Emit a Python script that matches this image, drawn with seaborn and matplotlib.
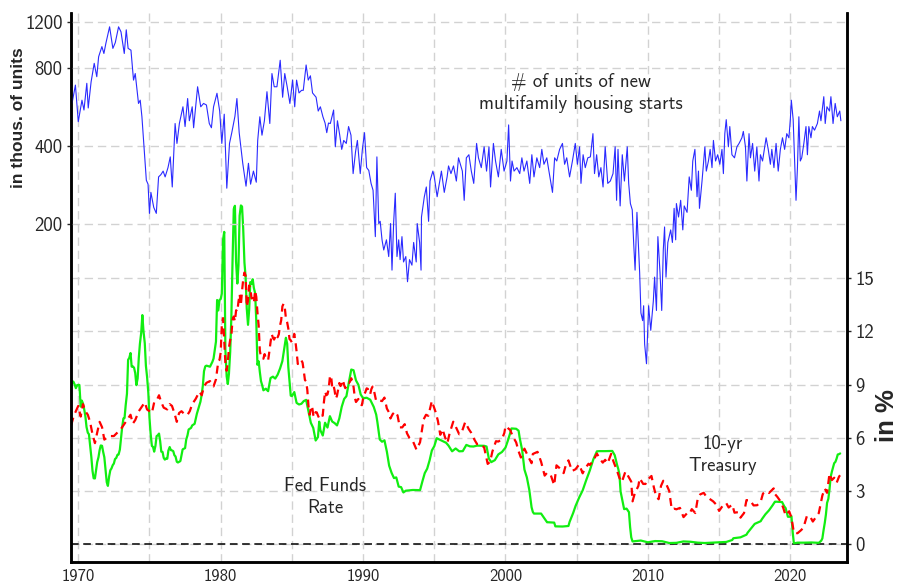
import numpy as np
import pandas as pd
import matplotlib
matplotlib.use("Agg")
import matplotlib.pyplot as plt
import seaborn as sns
from matplotlib.ticker import FixedLocator, FixedFormatter, NullLocator

# multifamily housing starts, thousands of units
mf_year = [1969.56, 1969.8, 1970.0, 1970.26, 1970.4, 1970.6, 1970.7, 1970.9, 1971.12, 1971.3,
           1971.43, 1971.66, 1971.8, 1971.94, 1972.2, 1972.43, 1972.6, 1972.83, 1973.0, 1973.23,
           1973.37, 1973.5, 1973.7, 1973.88, 1974.0, 1974.23, 1974.35, 1974.47, 1974.63, 1974.78,
           1974.9, 1975.0, 1975.1, 1975.3, 1975.48, 1975.64, 1975.8, 1975.96, 1976.1, 1976.3,
           1976.46, 1976.6, 1976.8, 1976.93, 1977.1, 1977.35, 1977.5, 1977.68, 1977.8, 1978.0,
           1978.1, 1978.38, 1978.6, 1978.8, 1979.0, 1979.2, 1979.35, 1979.5, 1979.74, 1979.93,
           1980.08, 1980.25, 1980.43, 1980.62, 1980.78, 1981.0, 1981.14, 1981.3, 1981.55, 1981.78,
           1981.95, 1982.1, 1982.3, 1982.5, 1982.6, 1982.75, 1982.9, 1983.07, 1983.25, 1983.45,
           1983.6, 1983.76, 1983.95, 1984.18, 1984.35, 1984.5, 1984.67, 1984.86, 1985.05, 1985.2,
           1985.33, 1985.5, 1985.68, 1985.8, 1986.0, 1986.15, 1986.3, 1986.45, 1986.7, 1986.85,
           1987.0, 1987.18, 1987.33, 1987.45, 1987.57, 1987.7, 1987.93, 1988.05, 1988.2, 1988.36,
           1988.5, 1988.64, 1988.82, 1988.98, 1989.15, 1989.3, 1989.47, 1989.6, 1989.8, 1989.95,
           1990.1, 1990.25, 1990.4, 1990.56, 1990.7, 1990.86, 1990.97, 1991.1, 1991.2, 1991.33,
           1991.45, 1991.64, 1991.8, 1991.93, 1992.03, 1992.15, 1992.26, 1992.38, 1992.5, 1992.6,
           1992.73, 1992.84, 1993.0, 1993.12, 1993.26, 1993.43, 1993.55, 1993.73, 1993.8, 1993.97,
           1994.07, 1994.1, 1994.3, 1994.44, 1994.6, 1994.7, 1994.9, 1995.0, 1995.2, 1995.36,
           1995.5, 1995.7, 1995.9, 1996.0, 1996.17, 1996.35, 1996.55, 1996.7, 1996.97, 1997.1,
           1997.25, 1997.43, 1997.6, 1997.77, 1997.97, 1998.1, 1998.3, 1998.5, 1998.67, 1998.84,
           1998.95, 1999.15, 1999.3, 1999.5, 1999.7, 1999.9, 2000.1, 2000.22, 2000.35, 2000.46,
           2000.6, 2000.8, 2001.0, 2001.15, 2001.3, 2001.5, 2001.7, 2001.85, 2002.0, 2002.2,
           2002.4, 2002.55, 2002.7, 2002.9, 2003.05, 2003.3, 2003.45, 2003.6, 2003.8, 2004.0,
           2004.15, 2004.3, 2004.5, 2004.7, 2004.9, 2005.05, 2005.2, 2005.3, 2005.45, 2005.6,
           2005.78, 2005.96, 2006.14, 2006.25, 2006.4, 2006.55, 2006.7, 2006.85, 2007.0, 2007.18,
           2007.36, 2007.55, 2007.7, 2007.8, 2007.9, 2008.05, 2008.2, 2008.35, 2008.55, 2008.65,
           2008.77, 2008.9, 2009.0, 2009.1, 2009.23, 2009.42, 2009.51, 2009.63, 2009.7, 2009.77,
           2009.9, 2010.05, 2010.2, 2010.38, 2010.47, 2010.6, 2010.7, 2010.85, 2010.97, 2011.08,
           2011.17, 2011.27, 2011.4, 2011.6, 2011.72, 2011.84, 2011.95, 2012.0, 2012.15, 2012.3,
           2012.45, 2012.55, 2012.75, 2012.9, 2013.05, 2013.15, 2013.3, 2013.45, 2013.55, 2013.62,
           2013.8, 2014.0, 2014.1, 2014.25, 2014.37, 2014.5, 2014.6, 2014.75, 2014.9, 2015.05,
           2015.2, 2015.3, 2015.4, 2015.5, 2015.65, 2015.75, 2015.9, 2016.08, 2016.25, 2016.4,
           2016.6, 2016.7, 2016.85, 2016.95, 2017.1, 2017.2, 2017.35, 2017.5, 2017.65, 2017.8,
           2017.9, 2018.05, 2018.2, 2018.3, 2018.45, 2018.6, 2018.7, 2018.85, 2019.0, 2019.15,
           2019.3, 2019.45, 2019.6, 2019.75, 2019.9, 2020.0, 2020.07, 2020.2, 2020.3, 2020.4,
           2020.5, 2020.6, 2020.7, 2020.8, 2020.95, 2021.1, 2021.2, 2021.3, 2021.45, 2021.55,
           2021.7, 2021.9, 2022.05, 2022.15, 2022.35, 2022.45, 2022.57, 2022.75, 2022.85, 2023.0,
           2023.15, 2023.3, 2023.47, 2023.55]
mf_units = [583, 686, 496, 600, 550, 697, 560, 705, 832, 739,
            882, 965, 908, 994, 1150, 950, 1000, 1150, 1100, 908,
            1120, 950, 935, 717, 760, 583, 600, 518, 386, 295,
            285, 220, 265, 232, 220, 304, 310, 320, 304, 330,
            363, 278, 488, 409, 488, 566, 475, 609, 500, 566,
            470, 676, 566, 583, 575, 488, 470, 566, 638, 545,
            409, 530, 275, 409, 450, 520, 609, 450, 343, 280,
            343, 285, 320, 290, 420, 518, 440, 500, 647, 488,
            760, 676, 676, 855, 616, 760, 676, 583, 717, 566,
            717, 640, 655, 655, 820, 717, 745, 640, 616, 545,
            566, 518, 490, 450, 490, 488, 550, 397, 500, 440,
            388, 420, 409, 475, 440, 313, 380, 420, 313, 388,
            450, 330, 322, 287, 270, 179, 363, 201, 205, 174,
            159, 174, 150, 201, 133, 205, 263, 150, 174, 146,
            179, 143, 150, 120, 146, 139, 170, 143, 201, 170,
            133, 213, 255, 278, 205, 293, 320, 304, 255, 287,
            320, 265, 304, 335, 313, 335, 293, 360, 320, 247,
            360, 370, 320, 287, 409, 360, 330, 397, 320, 397,
            278, 409, 350, 304, 388, 320, 350, 482, 293, 350,
            320, 330, 313, 360, 320, 350, 287, 370, 304, 360,
            330, 388, 340, 360, 320, 265, 360, 350, 388, 409,
            340, 360, 304, 350, 409, 340, 397, 287, 370, 330,
            360, 363, 446, 313, 370, 304, 330, 278, 397, 287,
            293, 313, 397, 247, 388, 235, 370, 293, 397, 287,
            240, 227, 169, 133, 222, 130, 91, 85, 97, 69,
            58, 97, 78, 101, 125, 93, 179, 130, 93, 159,
            195, 125, 170, 190, 170, 230, 174, 240, 213, 247,
            190, 235, 222, 304, 270, 350, 388, 255, 320, 230,
            293, 397, 320, 350, 388, 330, 420, 350, 370, 340,
            388, 313, 446, 505, 397, 475, 370, 360, 397, 409,
            430, 455, 397, 293, 446, 360, 409, 320, 397, 293,
            370, 350, 397, 430, 388, 340, 388, 330, 409, 320,
            388, 430, 388, 446, 430, 505, 600, 505, 350, 247,
            330, 518, 350, 360, 409, 475, 370, 475, 430, 475,
            460, 488, 545, 500, 619, 488, 566, 545, 619, 488,
            583, 518, 545, 500]

# effective federal funds rate, percent
fed_year = [1969.5, 1969.58, 1969.67, 1969.75, 1969.83, 1969.92, 1970.0, 1970.08, 1970.17, 1970.25,
            1970.33, 1970.42, 1970.5, 1970.58, 1970.67, 1970.75, 1970.83, 1970.92, 1971.0, 1971.08,
            1971.17, 1971.25, 1971.33, 1971.42, 1971.5, 1971.58, 1971.67, 1971.75, 1971.83, 1971.92,
            1972.0, 1972.08, 1972.17, 1972.25, 1972.33, 1972.42, 1972.5, 1972.58, 1972.67, 1972.75,
            1972.83, 1972.92, 1973.0, 1973.08, 1973.17, 1973.25, 1973.33, 1973.42, 1973.5, 1973.58,
            1973.67, 1973.75, 1973.83, 1973.92, 1974.0, 1974.08, 1974.17, 1974.25, 1974.33, 1974.42,
            1974.5, 1974.58, 1974.67, 1974.75, 1974.83, 1974.92, 1975.0, 1975.08, 1975.17, 1975.25,
            1975.33, 1975.42, 1975.5, 1975.58, 1975.67, 1975.75, 1975.83, 1975.92, 1976.0, 1976.08,
            1976.17, 1976.25, 1976.33, 1976.42, 1976.5, 1976.58, 1976.67, 1976.75, 1976.83, 1976.92,
            1977.0, 1977.17, 1977.33, 1977.5, 1977.58, 1977.67, 1977.75, 1977.92, 1978.0, 1978.17,
            1978.33, 1978.42, 1978.5, 1978.58, 1978.67, 1978.75, 1978.83, 1978.92, 1979.0, 1979.25,
            1979.42, 1979.5, 1979.58, 1979.67, 1979.75, 1979.83, 1979.92, 1980.0, 1980.08, 1980.17,
            1980.25, 1980.33, 1980.42, 1980.5, 1980.58, 1980.67, 1980.75, 1980.83, 1980.92, 1981.0,
            1981.08, 1981.17, 1981.25, 1981.33, 1981.42, 1981.5, 1981.58, 1981.67, 1981.75, 1981.83,
            1981.92, 1982.0, 1982.08, 1982.17, 1982.25, 1982.33, 1982.42, 1982.5, 1982.58, 1982.67,
            1982.75, 1982.83, 1982.92, 1983.0, 1983.17, 1983.33, 1983.5, 1983.67, 1983.83, 1984.0,
            1984.17, 1984.33, 1984.5, 1984.58, 1984.67, 1984.75, 1984.92, 1985.0, 1985.17, 1985.33,
            1985.5, 1985.67, 1985.83, 1986.0, 1986.17, 1986.33, 1986.5, 1986.67, 1986.83, 1986.92,
            1987.0, 1987.17, 1987.33, 1987.5, 1987.67, 1987.83, 1988.0, 1988.17, 1988.33, 1988.5,
            1988.67, 1988.83, 1989.0, 1989.17, 1989.33, 1989.5, 1989.67, 1989.83, 1990.0, 1990.25,
            1990.5, 1990.75, 1990.92, 1991.0, 1991.17, 1991.33, 1991.5, 1991.67, 1991.83, 1992.0,
            1992.17, 1992.33, 1992.5, 1992.67, 1992.83, 1993.0, 1993.5, 1994.0, 1994.17, 1994.33,
            1994.5, 1994.67, 1994.83, 1995.0, 1995.17, 1995.5, 1995.83, 1996.0, 1996.25, 1996.5,
            1996.75, 1997.0, 1997.25, 1997.5, 1997.75, 1998.0, 1998.5, 1998.67, 1998.83, 1999.0,
            1999.25, 1999.5, 1999.75, 2000.0, 2000.17, 2000.33, 2000.42, 2000.75, 2000.92, 2001.0,
            2001.17, 2001.33, 2001.5, 2001.67, 2001.83, 2001.92, 2002.0, 2002.5, 2002.83, 2002.92,
            2003.0, 2003.42, 2003.5, 2004.0, 2004.42, 2004.5, 2004.75, 2004.92, 2005.17, 2005.42,
            2005.67, 2005.92, 2006.17, 2006.42, 2006.58, 2007.0, 2007.5, 2007.67, 2007.83, 2007.92,
            2008.0, 2008.08, 2008.17, 2008.33, 2008.5, 2008.67, 2008.75, 2008.83, 2008.92, 2009.5,
            2010.0, 2010.5, 2011.0, 2011.5, 2012.0, 2012.5, 2013.0, 2013.5, 2014.0, 2014.5,
            2015.0, 2015.5, 2015.92, 2016.0, 2016.5, 2016.92, 2017.0, 2017.25, 2017.5, 2017.92,
            2018.0, 2018.25, 2018.5, 2018.75, 2018.92, 2019.0, 2019.42, 2019.58, 2019.67, 2019.83,
            2020.0, 2020.08, 2020.17, 2020.25, 2020.5, 2021.0, 2021.5, 2022.0, 2022.17, 2022.25,
            2022.33, 2022.42, 2022.5, 2022.58, 2022.67, 2022.75, 2022.83, 2022.92, 2023.0, 2023.08,
            2023.17, 2023.25, 2023.33, 2023.42, 2023.5]
fed_rate = [8.9, 9.2, 9.15, 9.0, 8.8, 8.97, 8.98, 8.98, 7.76, 8.1,
            7.94, 7.6, 7.21, 6.61, 6.29, 6.2, 5.6, 4.9, 4.14, 3.72,
            3.71, 4.15, 4.63, 4.91, 5.31, 5.57, 5.55, 5.2, 4.91, 4.14,
            3.5, 3.29, 3.83, 4.17, 4.27, 4.46, 4.55, 4.8, 4.87, 5.04,
            5.06, 5.33, 5.94, 6.58, 7.09, 7.12, 7.84, 8.49, 10.4, 10.5,
            10.78, 10.01, 10.03, 9.95, 9.65, 8.97, 9.35, 10.51, 11.31, 11.93,
            12.92, 12.01, 11.34, 10.06, 9.45, 8.53, 7.13, 6.24, 5.54, 5.49,
            5.22, 5.55, 6.1, 6.14, 6.24, 5.82, 5.22, 5.2, 4.87, 4.77,
            4.84, 4.82, 5.29, 5.48, 5.31, 5.29, 5.25, 5.02, 4.95, 4.65,
            4.61, 4.69, 5.35, 5.42, 5.9, 6.14, 6.47, 6.56, 6.7, 6.79,
            7.36, 7.6, 7.81, 8.04, 8.45, 8.96, 9.76, 10.03, 10.07, 10.01,
            10.29, 10.47, 10.94, 11.43, 13.77, 13.18, 13.78, 13.82, 14.13, 17.19,
            17.61, 10.98, 9.47, 9.03, 9.61, 10.87, 12.81, 15.85, 18.9, 19.08,
            15.93, 14.7, 15.72, 18.52, 19.1, 19.04, 17.82, 15.87, 15.08, 13.31,
            12.37, 13.22, 14.78, 14.68, 14.94, 14.45, 14.15, 12.59, 10.12, 10.31,
            9.71, 9.2, 8.95, 8.68, 8.77, 8.63, 9.37, 9.45, 9.34, 9.56,
            9.91, 10.32, 11.23, 11.64, 11.3, 9.99, 8.38, 8.35, 8.58, 7.97,
            7.88, 7.92, 8.07, 8.14, 7.48, 6.85, 6.56, 5.85, 6.04, 6.91,
            6.43, 6.13, 6.85, 6.58, 7.22, 6.92, 6.83, 6.7, 7.09, 7.75,
            8.19, 8.35, 9.12, 9.85, 9.81, 9.24, 8.99, 8.45, 8.23, 8.26,
            8.15, 7.74, 7.31, 6.91, 5.91, 5.78, 5.86, 5.22, 4.43, 4.03,
            3.73, 3.77, 3.25, 3.22, 2.92, 3.02, 3.06, 3.05, 3.56, 4.01,
            4.26, 4.73, 5.29, 5.53, 5.98, 5.85, 5.72, 5.56, 5.24, 5.4,
            5.24, 5.25, 5.6, 5.52, 5.51, 5.56, 5.55, 5.51, 4.83, 4.63,
            4.74, 5.07, 5.2, 5.45, 5.85, 6.27, 6.53, 6.51, 6.4, 5.98,
            5.31, 4.21, 3.77, 3.07, 2.09, 1.82, 1.73, 1.73, 1.34, 1.24,
            1.24, 1.22, 1.01, 1.0, 1.03, 1.26, 1.76, 2.16, 2.63, 3.04,
            3.62, 4.16, 4.79, 5.24, 5.25, 5.25, 5.26, 5.02, 4.49, 4.24,
            3.94, 2.98, 2.61, 1.98, 2.01, 1.81, 0.97, 0.39, 0.16, 0.21,
            0.11, 0.18, 0.17, 0.07, 0.08, 0.16, 0.14, 0.09, 0.07, 0.09,
            0.11, 0.13, 0.24, 0.34, 0.39, 0.54, 0.65, 0.9, 1.15, 1.3,
            1.41, 1.69, 1.91, 2.19, 2.4, 2.4, 2.38, 2.13, 2.04, 1.55,
            1.55, 1.58, 0.65, 0.05, 0.09, 0.09, 0.1, 0.08, 0.2, 0.33,
            0.77, 1.21, 1.68, 2.33, 2.56, 3.08, 3.78, 4.1, 4.33, 4.57,
            4.65, 4.83, 5.06, 5.08, 5.12]

# 10-year treasury yield, percent
t10_year_early = [1969.5, 1969.67, 1969.83, 1970.0, 1970.17, 1970.33, 1970.5, 1970.67, 1970.83, 1971.0,
                  1971.17, 1971.33, 1971.5, 1971.67, 1971.83, 1972.0, 1972.25, 1972.5, 1972.75, 1973.0,
                  1973.25, 1973.5, 1973.67, 1973.83, 1974.0, 1974.25, 1974.5, 1974.67, 1974.83, 1975.0,
                  1975.17, 1975.33, 1975.5, 1975.67, 1975.83, 1976.0, 1976.25, 1976.42, 1976.58, 1976.75,
                  1976.92, 1977.08, 1977.25, 1977.5, 1977.67, 1977.83, 1978.0, 1978.25, 1978.5, 1978.67,
                  1978.83, 1979.0, 1979.25, 1979.5, 1979.67, 1979.83, 1979.92]
t10_pct_early = [6.7, 7.2, 7.5, 7.8, 7.2, 7.9, 7.5, 7.3, 6.9, 6.2,
                 5.7, 6.3, 6.9, 6.6, 5.9, 6.0, 6.1, 6.1, 6.3, 6.5,
                 6.8, 7.1, 7.3, 6.8, 7.0, 7.5, 7.8, 8.0, 7.6, 7.5,
                 7.4, 8.0, 8.1, 8.4, 8.0, 7.7, 7.6, 7.9, 7.8, 7.4,
                 6.9, 7.4, 7.5, 7.3, 7.3, 7.5, 7.9, 8.2, 8.6, 8.4,
                 8.9, 9.1, 9.2, 8.9, 9.3, 10.3, 10.4]
# monthly, Jan 1980 .. Dec 1990
t10_pct_1980s = [10.8, 12.41, 12.75, 11.47, 10.18, 9.78, 10.25, 11.1, 11.51, 11.75, 12.68, 12.84,
                 12.57, 13.19, 13.12, 13.68, 14.1, 13.47, 14.28, 14.94, 15.32, 15.15, 13.39, 13.72,
                 14.59, 14.43, 13.86, 13.87, 13.62, 14.3, 13.95, 13.06, 12.34, 10.91, 10.55, 10.54,
                 10.46, 10.72, 10.51, 10.4, 10.38, 10.85, 11.38, 11.85, 11.65, 11.54, 11.69, 11.83,
                 11.67, 11.84, 12.32, 12.63, 13.41, 13.56, 13.36, 12.72, 12.52, 12.16, 11.57, 11.5,
                 11.38, 11.51, 11.86, 11.43, 10.85, 10.16, 10.31, 10.33, 10.37, 10.24, 9.78, 9.26,
                 9.19, 8.7, 7.78, 7.3, 7.71, 7.8, 7.3, 7.17, 7.45, 7.43, 7.25, 7.11,
                 7.08, 7.25, 7.25, 8.02, 8.61, 8.4, 8.45, 8.76, 9.42, 9.52, 8.86, 8.99,
                 8.67, 8.21, 8.37, 8.72, 9.09, 8.92, 9.06, 9.26, 8.98, 8.8, 8.96, 9.11,
                 9.09, 9.17, 9.36, 9.18, 8.86, 8.28, 8.02, 8.11, 8.19, 8.01, 7.87, 7.84,
                 8.21, 8.47, 8.59, 8.79, 8.76, 8.48, 8.47, 8.75, 8.89, 8.72, 8.39, 8.08]
t10_year_late = [1991.0, 1991.17, 1991.33, 1991.5, 1991.67, 1991.83, 1991.92, 1992.08, 1992.25, 1992.42,
                 1992.58, 1992.75, 1992.92, 1993.08, 1993.25, 1993.5, 1993.75, 1994.0, 1994.25, 1994.42,
                 1994.58, 1994.83, 1994.92, 1995.08, 1995.25, 1995.42, 1995.58, 1995.75, 1995.92, 1996.08,
                 1996.33, 1996.5, 1996.75, 1996.92, 1997.17, 1997.42, 1997.58, 1997.83, 1998.0, 1998.25,
                 1998.5, 1998.75, 1998.92, 1999.08, 1999.33, 1999.5, 1999.75, 1999.92, 2000.0, 2000.33,
                 2000.5, 2000.75, 2000.92, 2001.08, 2001.33, 2001.58, 2001.83, 2001.92, 2002.25, 2002.5,
                 2002.75, 2002.92, 2003.17, 2003.42, 2003.58, 2003.83, 2004.08, 2004.25, 2004.42, 2004.67,
                 2004.92, 2005.17, 2005.42, 2005.58, 2005.83, 2005.92, 2006.17, 2006.42, 2006.58, 2006.83,
                 2007.0, 2007.17, 2007.42, 2007.58, 2007.83, 2008.0, 2008.17, 2008.42, 2008.58, 2008.83,
                 2008.92, 2009.08, 2009.33, 2009.42, 2009.67, 2009.83, 2009.92, 2010.25, 2010.42, 2010.58,
                 2010.75, 2010.92, 2011.08, 2011.25, 2011.5, 2011.67, 2011.83, 2012.0, 2012.25, 2012.5,
                 2012.75, 2012.92, 2013.08, 2013.33, 2013.5, 2013.67, 2013.92, 2014.08, 2014.33, 2014.58,
                 2014.83, 2015.0, 2015.25, 2015.5, 2015.67, 2015.92, 2016.08, 2016.33, 2016.5, 2016.75,
                 2016.92, 2017.17, 2017.42, 2017.67, 2017.92, 2018.08, 2018.33, 2018.5, 2018.83, 2018.92,
                 2019.08, 2019.33, 2019.5, 2019.67, 2019.92, 2020.08, 2020.25, 2020.5, 2020.75, 2020.92,
                 2021.17, 2021.42, 2021.58, 2021.83, 2022.0, 2022.25, 2022.42, 2022.58, 2022.75, 2022.92,
                 2023.08, 2023.25, 2023.42, 2023.5]
t10_pct_late = [8.09, 8.11, 8.07, 8.27, 7.65, 7.42, 7.09, 7.34, 7.48, 7.26,
                6.59, 6.59, 6.77, 6.26, 6.0, 5.81, 5.33, 5.75, 7.04, 7.3,
                7.24, 8.08, 7.87, 7.48, 6.97, 6.17, 6.49, 6.04, 5.71, 6.27,
                6.91, 6.64, 6.2, 6.3, 6.89, 6.49, 6.3, 5.88, 5.65, 5.64,
                5.46, 4.53, 4.65, 5.23, 5.81, 5.79, 5.92, 6.28, 6.66, 6.44,
                6.1, 5.74, 5.24, 4.89, 5.39, 4.97, 4.57, 5.09, 5.21, 4.65,
                3.87, 4.03, 3.92, 3.33, 4.45, 4.27, 4.01, 4.5, 4.73, 4.13,
                4.23, 4.5, 4.0, 4.26, 4.54, 4.47, 4.72, 5.11, 4.88, 4.6,
                4.76, 4.56, 5.1, 4.67, 4.15, 3.74, 3.51, 4.1, 3.89, 3.53,
                2.42, 2.87, 3.29, 3.72, 3.4, 3.4, 3.59, 3.85, 3.2, 2.7,
                2.54, 3.29, 3.58, 3.46, 3.0, 1.98, 2.01, 1.97, 2.05, 1.53,
                1.75, 1.72, 1.98, 1.76, 2.58, 2.81, 2.9, 2.71, 2.56, 2.42,
                2.21, 1.88, 2.17, 2.32, 2.07, 2.24, 1.78, 1.81, 1.5, 1.76,
                2.49, 2.48, 2.19, 2.2, 2.4, 2.86, 2.98, 2.89, 3.15, 2.83,
                2.68, 2.4, 2.06, 1.63, 1.86, 1.5, 0.66, 0.62, 0.79, 0.93,
                1.61, 1.52, 1.28, 1.56, 1.76, 2.75, 3.14, 2.9, 3.98, 3.62,
                3.75, 3.46, 3.81, 3.9]

t10_year = np.concatenate([t10_year_early,
                           1980 + np.arange(len(t10_pct_1980s)) / 12,
                           t10_year_late])
t10_pct = np.concatenate([t10_pct_early, t10_pct_1980s, t10_pct_late])

starts = pd.DataFrame({"year": mf_year, "units": mf_units})
fed = pd.DataFrame({"year": fed_year, "rate": fed_rate})
t10 = pd.DataFrame({"year": t10_year, "rate": t10_pct})

left_ticks = [200, 400, 800, 1200]
right_ticks = [0, 3, 6, 9, 12, 15]

sns.set_style("white")
plt.rcParams["font.family"] = ["cmss10", "DejaVu Sans"]

fig = plt.figure(figsize=(9, 5.83), dpi=100)
# rates axis first (drawn underneath), its y axis on the right
ax = fig.add_axes([71 / 900, 1 - 562 / 583, 776 / 900, 549 / 583])
grid_kw = dict(color="#d2d2d2", lw=1.0, ls=(0, (6, 3.5)))

sns.lineplot(data=fed, x="year", y="rate", ax=ax, color="#11ee11", lw=1.6, estimator=None)
sns.lineplot(data=t10, x="year", y="rate", ax=ax, color="red", lw=1.6,
             ls=(0, (3.6, 2.4)), estimator=None)
ax.axhline(0, color="black", lw=1.1, ls=(0, (5, 3)), zorder=1)

ax.set_xlim(1969.49, 2023.98)
ax.set_ylim(-1.0, 29.95)
ax.xaxis.set_major_locator(FixedLocator(list(range(1970, 2021, 10))))
ax.xaxis.set_minor_locator(FixedLocator(list(range(1975, 2021, 10))))
ax.yaxis.set_major_locator(FixedLocator(right_ticks))
ax.grid(True, axis="x", which="both", **grid_kw)
ax.grid(True, axis="y", which="major", **grid_kw)
ax.set_axisbelow(True)
ax.set_xlabel("")
ax.set_ylabel("")

# housing starts on a log scale, y axis on the left
axh = ax.twinx()
sns.lineplot(data=starts, x="year", y="units", ax=axh, color="#2a2aff", lw=0.8, estimator=None)
axh.set_yscale("log")
axh.set_ylim(10, 1300)
axh.set_xlim(1969.49, 2023.98)
axh.yaxis.tick_left()
axh.yaxis.set_major_locator(FixedLocator(left_ticks))
axh.yaxis.set_major_formatter(FixedFormatter([str(t) for t in left_ticks]))
axh.yaxis.set_minor_locator(NullLocator())
axh.grid(True, axis="y", which="major", **grid_kw)
axh.tick_params(axis="y", length=3, width=1, pad=3, labelsize=13.5, left=True, right=False,
                labelleft=True, labelright=False)
axh.set_ylabel("")

# twinx moved the rate ticks to the left; put them back on the right
ax.yaxis.tick_right()
ax.tick_params(axis="x", which="both", length=0, pad=5, labelsize=12)
ax.tick_params(axis="y", length=3, width=1, pad=3, labelsize=13.5, right=True, left=False,
               labelright=True, labelleft=False)

for a in (ax, axh):
    a.spines["top"].set_visible(False)
    for side in ("left", "right", "bottom"):
        a.spines[side].set_visible(True)
        a.spines[side].set_color("black")
        a.spines[side].set_linewidth(1.8)

fig.text(19 / 900, 1 - 118 / 583, "in thous. of units", rotation=90, ha="center", va="center",
         fontsize=12.5, fontweight="bold", family=["Liberation Sans", "DejaVu Sans"])
fig.text(887 / 900, 1 - 416 / 583, "in %", rotation=90, ha="center", va="center",
         fontsize=18.5, fontweight="bold", family=["Liberation Sans", "DejaVu Sans"])

note_kw = dict(ha="center", va="center", fontsize=13.5, linespacing=1.25, multialignment="center")
fig.text(581 / 900, 1 - 93 / 583, "# of units of new\nmultifamily housing starts", **note_kw)
fig.text(325 / 900, 1 - 497 / 583, "Fed Funds\nRate", **note_kw)
fig.text(723 / 900, 1 - 455 / 583, "10-yr\nTreasury", **note_kw)

fig.savefig("out.png", dpi=100)
